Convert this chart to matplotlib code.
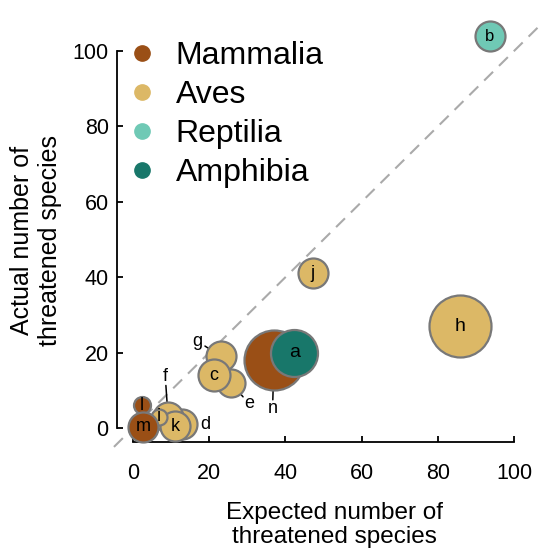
import matplotlib
matplotlib.use("Agg")
import matplotlib.pyplot as plt
from matplotlib.lines import Line2D

plt.rcParams['font.family'] = ['Liberation Sans', 'DejaVu Sans']

# data (drawing order: back to front)
labels   = ['b', 'h', 'j', 'n', 'a', 'g', 'e', 'c', 'd', 'f', 'k', 'i', 'l', 'm']
expected = [93.7, 85.8, 47.2, 37.0, 42.3, 23.1, 25.7, 21.2, 12.9, 9.2, 11.0, 6.8, 2.4, 2.6]
actual   = [104, 27, 41, 18, 20, 19, 12, 14, 1, 3, 0.5, 3, 6, 0.3]
radius   = [15, 31, 15, 30, 23.5, 15, 14, 16, 15, 15, 15, 8, 8.5, 15]
group    = ['Reptilia', 'Aves', 'Aves', 'Mammalia', 'Amphibia', 'Aves', 'Aves', 'Aves',
            'Aves', 'Aves', 'Aves', 'Aves', 'Mammalia', 'Mammalia']

groups = ['Mammalia', 'Aves', 'Reptilia', 'Amphibia']
colors = {'Mammalia': '#9a4f16', 'Aves': '#dcb866', 'Reptilia': '#6fc9b5', 'Amphibia': '#18776a'}

# labels placed outside the circle (offset in points) with a short leader line
outside = {'g': (-17, 11), 'e': (13, -15), 'n': (-1, -35), 'f': (-2, 29), 'd': (17, 0)}

fig = plt.figure(figsize=(5.41, 5.54), dpi=100)
ax = fig.add_axes([117 / 541, 1 - 442 / 554, (541 - 117) / 541, (442 - 10) / 554])

ax.plot([-5, 108], [-5, 108], ls=(0, (6, 4)), color='#aaaaaa', lw=1.5, zorder=0, clip_on=False)

for i in range(len(labels)):
    s = (1.44 * radius[i]) ** 2
    ax.scatter(expected[i], actual[i], s=s, c=colors[group[i]], edgecolors='#787878',
               linewidths=1.6, zorder=2 + i, clip_on=False)
    lab = labels[i]
    if lab in outside:
        dx, dy = outside[lab]
        ax.annotate(lab, (expected[i], actual[i]), xytext=(dx, dy), textcoords='offset points',
                    ha='center', va='center', fontsize=13, zorder=30)
        ax.annotate('', (expected[i], actual[i]), xytext=(dx, dy), textcoords='offset points',
                    zorder=1,
                    arrowprops=dict(arrowstyle='-', color='black', lw=1.1, patchA=None, patchB=None,
                                    shrinkA=6.5, shrinkB=radius[i] * 0.72 - 3))
    else:
        fs = 12 if lab == 'b' else (14 if radius[i] > 20 else 13)
        ax.text(expected[i], actual[i], lab, ha='center', va='center', fontsize=fs, zorder=30)

ax.set_xlim(-4.2, 107.1)
ax.set_ylim(-3.7, 110.9)
ax.spines['top'].set_visible(False)
ax.spines['right'].set_visible(False)
ax.spines['bottom'].set_bounds(0, 100)
ax.spines['left'].set_bounds(0, 100)
for sp in ['bottom', 'left']:
    ax.spines[sp].set_linewidth(1.3)
ax.set_xticks([0, 20, 40, 60, 80, 100])
ax.set_yticks([0, 20, 40, 60, 80, 100])
ax.tick_params(direction='in', labelsize=15.5, length=4, width=1.3)
ax.tick_params(axis='y', pad=6)
ax.tick_params(axis='x', pad=15)

ax.set_xlabel('Expected number of\nthreatened species', fontsize=17.5, linespacing=1.1)
ax.set_ylabel('Actual number of\nthreatened species', fontsize=18)
ax.xaxis.set_label_coords((334 - 117) / 424, -(502 - 442) / 432)
ax.xaxis.label.set_va('top')
ax.yaxis.set_label_coords(-(117 - 10) / 424, (442 - 240) / 432)
ax.yaxis.label.set_va('top')

handles = [Line2D([], [], ls='', marker='o', ms=11, mfc=colors[g], mec=colors[g]) for g in groups]
ax.legend(handles, groups, loc='upper left', bbox_to_anchor=(118 / 541, 1 - 41 / 554),
          bbox_transform=fig.transFigure, frameon=False,
          fontsize=23, handletextpad=0.3, labelspacing=0.28, borderaxespad=0.0,
          handlelength=1.5, borderpad=0.0)

fig.savefig('out.png', dpi=100)
